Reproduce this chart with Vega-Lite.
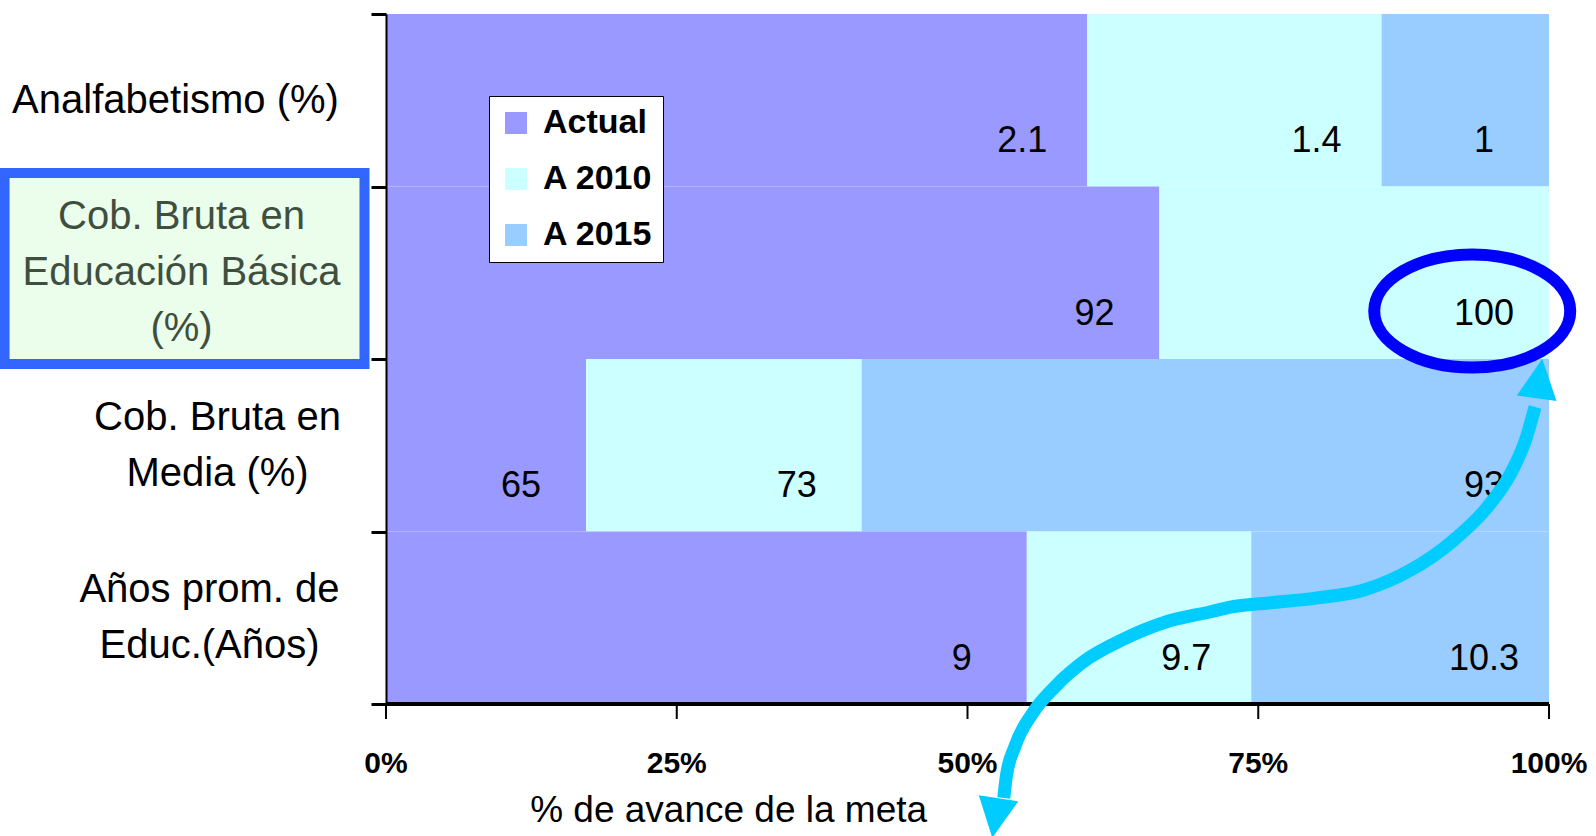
{
  "$schema": "https://vega.github.io/schema/vega-lite/v6.json",
  "width": 1163,
  "height": 690,
  "autosize": {"type": "none"},
  "padding": {"left": 386, "top": 14, "right": 47, "bottom": 132},
  "background": "white",
  "view": {"stroke": null},
  "datasets": {
    "barras": [
      {"categoria": "Analfabetismo (%)", "serie": "Actual", "avance": 60.3, "valor": "2.1"},
      {"categoria": "Analfabetismo (%)", "serie": "A 2010", "avance": 25.3, "valor": "1.4"},
      {"categoria": "Analfabetismo (%)", "serie": "A 2015", "avance": 14.4, "valor": "1"},
      {"categoria": "Cob. Bruta en\nEducación Básica\n(%)", "serie": "Actual", "avance": 66.5, "valor": "92"},
      {"categoria": "Cob. Bruta en\nEducación Básica\n(%)", "serie": "A 2010", "avance": 33.5, "valor": "100"},
      {"categoria": "Cob. Bruta en\nMedia (%)", "serie": "Actual", "avance": 17.2, "valor": "65"},
      {"categoria": "Cob. Bruta en\nMedia (%)", "serie": "A 2010", "avance": 23.7, "valor": "73"},
      {"categoria": "Cob. Bruta en\nMedia (%)", "serie": "A 2015", "avance": 59.1, "valor": "93"},
      {"categoria": "Años prom. de\nEduc.(Años)", "serie": "Actual", "avance": 55.1, "valor": "9"},
      {"categoria": "Años prom. de\nEduc.(Años)", "serie": "A 2010", "avance": 19.3, "valor": "9.7"},
      {"categoria": "Años prom. de\nEduc.(Años)", "serie": "A 2015", "avance": 25.6, "valor": "10.3"}
    ],
    "marcas_x": [
      {"avance": 0, "etiqueta": "0%"},
      {"avance": 25, "etiqueta": "25%"},
      {"avance": 50, "etiqueta": "50%"},
      {"avance": 75, "etiqueta": "75%"},
      {"avance": 100, "etiqueta": "100%"}
    ],
    "titulo_x": [
      {"titulo": "% de avance de la meta"}
    ],
    "caja": [
      {"x_ini": -32.8, "x_fin": -1.85, "fila_ini": 0.922, "fila_fin": 2.029}
    ],
    "elipse": [
      {"avance": 93.4, "fila": 1.722}
    ],
    "flecha": [
      {"avance": 98.80, "fila": 2.278},
      {"avance": 97.98, "fila": 2.470},
      {"avance": 96.73, "fila": 2.661},
      {"avance": 94.71, "fila": 2.858},
      {"avance": 91.83, "fila": 3.049},
      {"avance": 88.13, "fila": 3.223},
      {"avance": 84.09, "fila": 3.339},
      {"avance": 79.96, "fila": 3.386},
      {"avance": 75.88, "fila": 3.414},
      {"avance": 72.61, "fila": 3.438},
      {"avance": 70.90, "fila": 3.465},
      {"avance": 67.05, "fila": 3.525},
      {"avance": 63.27, "fila": 3.629},
      {"avance": 60.17, "fila": 3.745},
      {"avance": 57.51, "fila": 3.901},
      {"avance": 55.61, "fila": 4.052},
      {"avance": 54.06, "fila": 4.249},
      {"avance": 53.33, "fila": 4.423},
      {"avance": 53.12, "fila": 4.545}
    ],
    "punta_arriba": [
      {"avance": 99.18, "fila": 2.113}
    ],
    "punta_abajo": [
      {"avance": 52.4, "fila": 4.661}
    ]
  },
  "layer": [
    {
      "data": {"name": "barras"},
      "transform": [
        {"calculate": "indexof(['Actual', 'A 2010', 'A 2015'], datum.serie)", "as": "orden"},
        {"stack": "avance", "groupby": ["categoria"], "sort": [{"field": "orden", "order": "ascending"}], "as": ["x0", "x1"]}
      ],
      "mark": {"type": "bar"},
      "encoding": {
        "y": {
          "field": "categoria",
          "type": "nominal",
          "sort": null,
          "scale": {"paddingInner": 0, "paddingOuter": 0},
          "axis": {
            "title": null,
            "tickBand": "extent",
            "tickSize": 15,
            "tickWidth": 3,
            "tickColor": "black",
            "domainColor": "black",
            "domainWidth": 2,
            "labelFont": "Liberation Sans",
            "labelFontSize": 40,
            "labelLineHeight": 56,
            "labelAlign": "center",
            "labelBaseline": "middle",
            "labelLimit": 500,
            "labelExpr": "split(datum.label, '\\n')",
            "labelColor": {"condition": {"test": "indexof('' + datum.value, 'Básica') >= 0", "value": "#3f4f3f"}, "value": "black"},
            "labelPadding": {
              "condition": [
                {"test": "'' + datum.value == 'Analfabetismo (%)'", "value": 196},
                {"test": "indexof('' + datum.value, 'Básica') >= 0", "value": 190},
                {"test": "indexof('' + datum.value, 'Media') >= 0", "value": 154}
              ],
              "value": 162
            },
            "labelOffset": {
              "condition": [
                {"test": "indexof('' + datum.value, 'Básica') >= 0", "value": -56},
                {"test": "indexof('' + datum.value, '\\n') >= 0", "value": -28}
              ],
              "value": 0
            },
            "zindex": 1
          }
        },
        "x": {
          "field": "x0",
          "type": "quantitative",
          "scale": {"domain": [0, 100], "nice": false, "zero": false},
          "axis": null
        },
        "x2": {"field": "x1"},
        "color": {
          "field": "serie",
          "type": "nominal",
          "scale": {"domain": ["Actual", "A 2010", "A 2015"], "range": ["#9999ff", "#ccffff", "#99ccff"]},
          "legend": {
            "title": null,
            "orient": "none",
            "legendX": 103,
            "legendY": 82,
            "direction": "vertical",
            "symbolType": "square",
            "symbolSize": 484,
            "symbolStrokeWidth": 0,
            "symbolOpacity": 1,
            "labelFont": "Liberation Sans",
            "labelFontSize": 34,
            "labelFontWeight": "bold",
            "labelColor": "black",
            "labelOffset": 10,
            "rowPadding": 22,
            "padding": 10,
            "strokeColor": "black",
            "fillColor": "white"
          }
        }
      }
    },
    {
      "data": {"name": "barras"},
      "transform": [
        {"calculate": "indexof(['Actual', 'A 2010', 'A 2015'], datum.serie)", "as": "orden"},
        {"stack": "avance", "groupby": ["categoria"], "sort": [{"field": "orden", "order": "ascending"}], "as": ["x0", "x1"]}
      ],
      "mark": {
        "type": "text",
        "align": "center",
        "baseline": "middle",
        "dx": -65,
        "dy": 41,
        "font": "Liberation Sans",
        "fontSize": 36,
        "color": "black"
      },
      "encoding": {
        "y": {"field": "categoria", "type": "nominal", "sort": null, "scale": {"paddingInner": 0, "paddingOuter": 0}, "axis": null},
        "x": {"field": "x1", "type": "quantitative", "axis": null},
        "text": {"field": "valor", "type": "nominal"}
      }
    },
    {
      "data": {"name": "caja"},
      "mark": {"type": "rect", "fill": "#ebfdeb", "stroke": "#3366ff", "strokeWidth": 10},
      "encoding": {
        "x": {"field": "x_ini", "type": "quantitative", "axis": null},
        "x2": {"field": "x_fin"},
        "y": {"field": "fila_ini", "type": "quantitative", "scale": {"domain": [0, 4], "reverse": true, "nice": false, "zero": false}, "axis": null},
        "y2": {"field": "fila_fin"}
      }
    },
    {
      "data": {"name": "marcas_x"},
      "mark": {"type": "rule", "color": "black", "strokeWidth": 2},
      "encoding": {
        "x": {"field": "avance", "type": "quantitative", "axis": null},
        "y": {"datum": 4, "type": "quantitative", "scale": {"domain": [0, 4], "reverse": true, "nice": false, "zero": false}, "axis": null},
        "y2": {"datum": 4.087}
      }
    },
    {
      "data": {"name": "titulo_x"},
      "mark": {"type": "rule", "color": "black", "strokeWidth": 4},
      "encoding": {
        "x": {"datum": 0, "type": "quantitative", "axis": null},
        "x2": {"datum": 100},
        "y": {"datum": 4, "type": "quantitative", "scale": {"domain": [0, 4], "reverse": true, "nice": false, "zero": false}, "axis": null}
      }
    },
    {
      "data": {"name": "marcas_x"},
      "mark": {"type": "text", "align": "center", "baseline": "alphabetic", "font": "Liberation Sans", "fontSize": 30, "fontWeight": "bold", "color": "black"},
      "encoding": {
        "x": {"field": "avance", "type": "quantitative", "axis": null},
        "y": {"datum": 4.4, "type": "quantitative", "scale": {"domain": [0, 4], "reverse": true, "nice": false, "zero": false}, "axis": null},
        "text": {"field": "etiqueta", "type": "nominal"}
      }
    },
    {
      "data": {"name": "titulo_x"},
      "mark": {"type": "text", "align": "center", "baseline": "alphabetic", "font": "Liberation Sans", "fontSize": 37, "color": "black"},
      "encoding": {
        "x": {"datum": 29.46, "type": "quantitative", "axis": null},
        "y": {"datum": 4.684, "type": "quantitative", "scale": {"domain": [0, 4], "reverse": true, "nice": false, "zero": false}, "axis": null},
        "text": {"field": "titulo", "type": "nominal"}
      }
    },
    {
      "data": {"name": "elipse"},
      "mark": {
        "type": "point",
        "shape": "M -1 0 A 1 0.577 0 1 0 1 0 A 1 0.577 0 1 0 -1 0 Z",
        "size": 38416,
        "filled": false,
        "stroke": "#0000ff",
        "strokeWidth": 12,
        "opacity": 1
      },
      "encoding": {
        "x": {"field": "avance", "type": "quantitative", "axis": null},
        "y": {"field": "fila", "type": "quantitative", "scale": {"domain": [0, 4], "reverse": true, "nice": false, "zero": false}, "axis": null}
      }
    },
    {
      "data": {"name": "flecha"},
      "mark": {"type": "line", "interpolate": "monotone", "strokeWidth": 13, "color": "#00ccff", "strokeCap": "butt"},
      "encoding": {
        "x": {"field": "avance", "type": "quantitative", "axis": null},
        "y": {"field": "fila", "type": "quantitative", "scale": {"domain": [0, 4], "reverse": true, "nice": false, "zero": false}, "axis": null}
      }
    },
    {
      "data": {"name": "punta_arriba"},
      "mark": {"type": "point", "shape": "M 0 -1 L 1 1 L -1 1 Z", "size": 1600, "filled": true, "color": "#00ccff", "opacity": 1, "angle": 8},
      "encoding": {
        "x": {"field": "avance", "type": "quantitative", "axis": null},
        "y": {"field": "fila", "type": "quantitative", "scale": {"domain": [0, 4], "reverse": true, "nice": false, "zero": false}, "axis": null}
      }
    },
    {
      "data": {"name": "punta_abajo"},
      "mark": {"type": "point", "shape": "M 0 -1 L 1 1 L -1 1 Z", "size": 1600, "filled": true, "color": "#00ccff", "opacity": 1, "angle": 189},
      "encoding": {
        "x": {"field": "avance", "type": "quantitative", "axis": null},
        "y": {"field": "fila", "type": "quantitative", "scale": {"domain": [0, 4], "reverse": true, "nice": false, "zero": false}, "axis": null}
      }
    }
  ],
  "resolve": {"scale": {"y": "independent"}}
}
